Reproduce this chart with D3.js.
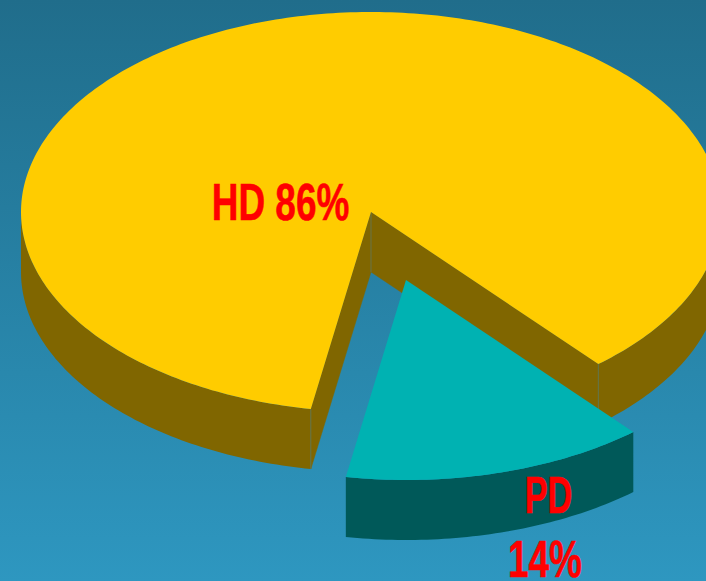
<!DOCTYPE html>
<html lang="en">
<head>
  <meta charset="UTF-8">
  <title>HD / PD share</title>
  <script src="https://cdn.jsdelivr.net/npm/d3@7"></script>
  <style>
    html, body { margin: 0; padding: 0; overflow: hidden; }
    svg { display: block; }
    text { font-family: "Liberation Sans", sans-serif; font-weight: bold; fill: #ff0000; stroke: #ff0000; stroke-width: 0.6; text-anchor: middle; }
  </style>
</head>
<body>
  <svg id="svg" width="706" height="581"></svg>

  <script>
    // The data
    const categories = ['PD', 'HD']
    const shares = [14, 86]
    // how far a slice is pulled out, as a share of the radius
    const explodeX = [0.1, 0]
    const explodeY = [0.34, 0]

    const width = 706
    const height = 581
    const cx = 371
    const cy = 212
    const rx = 350
    const ry = 200
    const depth = 60
    const tau = Math.PI * 2
    const startAngle = 139.5 * Math.PI / 180

    const topColor = { PD: '#00b2b2', HD: '#ffcc00' }
    const sideColor = { PD: '#005959', HD: '#806600' }

    const svg = d3.select('#svg')

    // Background gradient
    const grad = svg.append('defs').append('linearGradient')
      .attr('id', 'bg')
      .attr('x1', 0).attr('y1', 0).attr('x2', 0).attr('y2', 1)
    grad.append('stop').attr('offset', '0%').attr('stop-color', '#206d8b')
    grad.append('stop').attr('offset', '100%').attr('stop-color', '#2e97c0')
    svg.append('rect')
      .attr('width', width).attr('height', height)
      .attr('fill', 'url(#bg)')

    // Unit circle to tilted screen ellipse
    const xscale = d3.scaleLinear().domain([-1, 1]).range([cx - rx, cx + rx])
    const yscale = d3.scaleLinear().domain([-1, 1]).range([cy - ry, cy + ry])

    const pie = d3.pie().sort(null).startAngle(startAngle).endAngle(startAngle + tau)
    const slices = pie(shares).map((d, i) => ({
      name: categories[i],
      start: d.startAngle,
      end: d.endAngle,
      ox: explodeX[i],
      oy: explodeY[i]
    }))

    const line = d3.line()

    function point(s, angle, r, drop) {
      return [
        xscale(s.ox + Math.sin(angle) * r),
        yscale(s.oy - Math.cos(angle) * r) + drop
      ]
    }

    function arcPoints(s, a0, a1, drop) {
      const n = Math.max(2, Math.ceil(Math.abs(a1 - a0) * 60))
      return d3.range(n + 1).map(i => point(s, a0 + (a1 - a0) * i / n, 1, drop))
    }

    // The front half of the rim, cut up by what a slice covers
    function frontRanges(s) {
      const out = []
      for (let k = 0; k < 2; k++) {
        const lo = Math.max(s.start, Math.PI / 2 + k * tau)
        const hi = Math.min(s.end, Math.PI * 1.5 + k * tau)
        if (hi > lo) out.push([lo, hi])
      }
      return out
    }

    function drawSlice(s) {
      const g = svg.append('g')
      const centerTop = point(s, 0, 0, 0)
      const centerBottom = point(s, 0, 0, depth)
      const pulled = s.ox !== 0

      // Cut faces, the pulled out slice shows none of its own
      if (!pulled) {
        ;[s.start, s.end].forEach(a => {
          const edge = point(s, a, 1, 0)
          const edgeBottom = point(s, a, 1, depth)
          g.append('path')
            .attr('d', line([centerTop, edge, edgeBottom, centerBottom]) + 'Z')
            .attr('fill', sideColor[s.name])
            .attr('stroke', sideColor[s.name])
            .attr('stroke-width', 0.5)
        })
      }

      // Outer wall
      frontRanges(s).forEach(([a0, a1]) => {
        const pts = arcPoints(s, a0, a1, 0).concat(arcPoints(s, a1, a0, depth))
        g.append('path')
          .attr('d', line(pts) + 'Z')
          .attr('fill', sideColor[s.name])
      })

      // Thin seams where the faces meet
      if (!pulled) {
        ;[centerTop, point(s, s.start, 1, 0), point(s, s.end, 1, 0)].forEach(p => {
          g.append('line')
            .attr('x1', p[0]).attr('y1', p[1])
            .attr('x2', p[0]).attr('y2', p[1] + depth)
            .attr('stroke', '#5f7a5a')
            .attr('stroke-width', 0.8)
        })
      }

      // Top face
      const topPts = [centerTop].concat(arcPoints(s, s.start, s.end, 0))
      g.append('path')
        .attr('d', line(topPts) + 'Z')
        .attr('fill', topColor[s.name])
    }

    // Big slice first, the pulled out one sits in front of it
    slices.slice().reverse().forEach(drawSlice)

    // Labels, squeezed sideways since no narrow face is installed
    const labelText = ['HD 86%', 'PD', '14%']
    const labelX = [280.5, 548.5, 545]
    const labelY = [220, 513, 577]
    const labelSqueeze = [0.71, 0.66, 0.71]

    svg.selectAll('text.label')
      .data(labelText)
      .enter()
      .append('text')
      .attr('class', 'label')
      .attr('transform', (d, i) => `translate(${labelX[i]},${labelY[i]}) scale(${labelSqueeze[i]},1)`)
      .attr('font-size', 52)
      .text(d => d)
  </script>
</body>
</html>
